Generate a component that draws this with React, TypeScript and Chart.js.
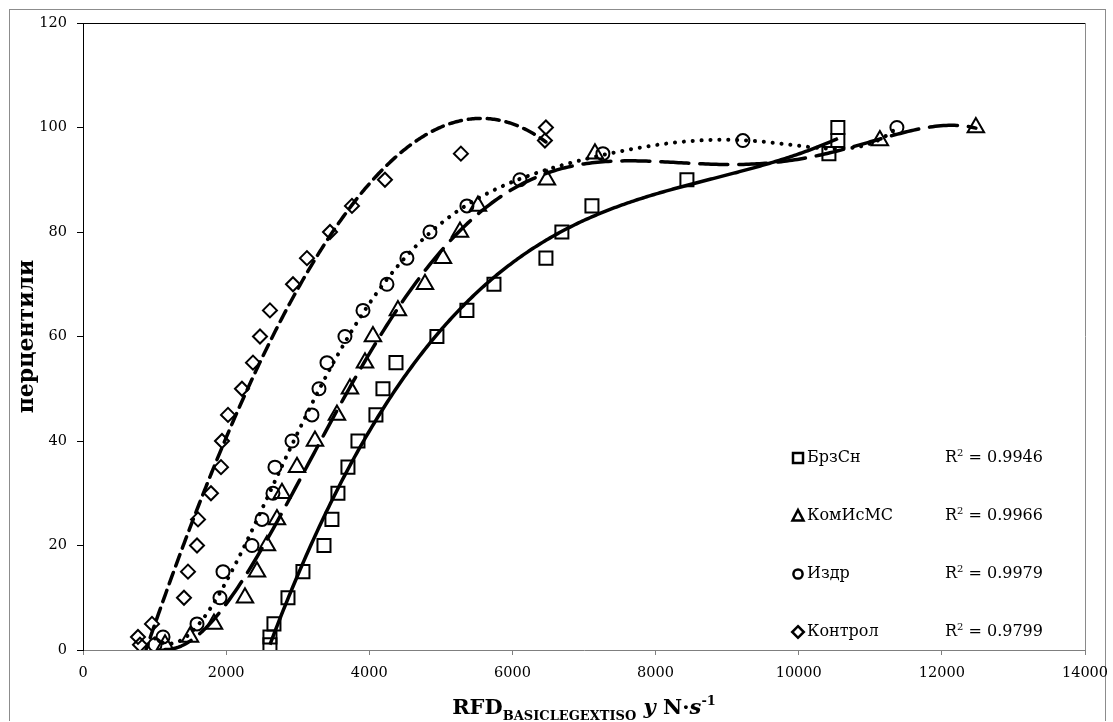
import React, { useEffect, useRef } from "react";
import { Chart, registerables } from "chart.js";

Chart.register(...registerables);

// Percentile levels shared by every group
const percentiles = [1, 2.5, 5, 10, 15, 20, 25, 30, 35, 40, 45, 50, 55, 60, 65, 70, 75, 80, 85, 90, 95, 97.5, 100];

// RFD values (N·s⁻¹) at each percentile, per group
const brzSn = [2612, 2612, 2668, 2864, 3073, 3367, 3478, 3562, 3702, 3842, 4093, 4191, 4373, 4945, 5364, 5742, 6468, 6691, 7111, 8438, 10422, 10547, 10547];
const komIsMS = [1146, 1495, 1830, 2263, 2431, 2570, 2710, 2780, 2990, 3241, 3548, 3730, 3940, 4051, 4400, 4778, 5029, 5267, 5518, 6482, 7153, 11134, 12475];
const izdr = [1006, 1118, 1593, 1914, 1956, 2361, 2501, 2654, 2682, 2920, 3199, 3297, 3409, 3660, 3912, 4247, 4526, 4848, 5364, 6105, 7264, 9220, 11372];
const kontrol = [796, 768, 964, 1411, 1467, 1593, 1607, 1788, 1928, 1942, 2026, 2221, 2375, 2473, 2612, 2934, 3129, 3451, 3758, 4219, 5280, 6454, 6468];

const seriesNames = ["БрзСн", "КомИсМС", "Издр", "Контрол"];
const rSquared = ["0.9946", "0.9966", "0.9979", "0.9799"];
// polynomial order of each group's trend line
const trendOrders = [3, 5, 6, 3];

const xMin = 0;
const xMax = 14000;
const xStep = 2000;
const yMin = 0;
const yMax = 120;
const yStep = 20;

const FONT = "'DejaVu Serif', 'Liberation Serif', serif";

type Style = {
  point: "rect" | "triangle" | "circle" | "rectRot";
  radius: number;
  dash: number[];
  cap: CanvasLineCap;
  width: number;
};

const styles: Style[] = [
  { point: "rect", radius: 9.2, dash: [], cap: "butt", width: 3.5 },
  { point: "triangle", radius: 9.5, dash: [28, 11], cap: "round", width: 3.5 },
  { point: "circle", radius: 6.5, dash: [0.1, 8.8], cap: "round", width: 4 },
  { point: "rectRot", radius: 7, dash: [12, 7], cap: "round", width: 3.5 },
];

// Least-squares polynomial trend line sampled across the group's x range
function polyfit(xs: number[], ys: number[], order: number) {
  const lo = Math.min(...xs);
  const hi = Math.max(...xs);
  const mid = (lo + hi) / 2;
  const half = (hi - lo) / 2 || 1;
  const n = order + 1;
  const A: number[][] = Array.from({ length: n }, () => new Array(n + 1).fill(0));
  xs.forEach((x, k) => {
    const u = (x - mid) / half;
    const pw = [1];
    for (let i = 1; i < 2 * n; i++) pw.push(pw[i - 1] * u);
    for (let i = 0; i < n; i++) {
      for (let j = 0; j < n; j++) A[i][j] += pw[i + j];
      A[i][n] += pw[i] * ys[k];
    }
  });
  for (let c = 0; c < n; c++) {
    let p = c;
    for (let r = c + 1; r < n; r++) if (Math.abs(A[r][c]) > Math.abs(A[p][c])) p = r;
    [A[c], A[p]] = [A[p], A[c]];
    for (let r = 0; r < n; r++) {
      if (r === c) continue;
      const f = A[r][c] / A[c][c];
      for (let j = c; j <= n; j++) A[r][j] -= f * A[c][j];
    }
  }
  const coef = A.map((row, i) => row[n] / row[i]);
  const evalAt = (x: number) => {
    const u = (x - mid) / half;
    let s = 0;
    for (let i = n - 1; i >= 0; i--) s = s * u + coef[i];
    return s;
  };
  const pts: { x: number; y: number }[] = [];
  const steps = 300;
  for (let i = 0; i <= steps; i++) {
    const x = lo + ((hi - lo) * i) / steps;
    pts.push({ x, y: evalAt(x) });
  }
  return pts;
}

function drawMarker(ctx: CanvasRenderingContext2D, kind: Style["point"], x: number, y: number) {
  ctx.beginPath();
  if (kind === "rect") {
    ctx.rect(x - 5, y - 5, 10, 10);
  } else if (kind === "triangle") {
    ctx.moveTo(x, y - 6);
    ctx.lineTo(x + 5.5, y + 4.5);
    ctx.lineTo(x - 5.5, y + 4.5);
    ctx.closePath();
  } else if (kind === "circle") {
    ctx.arc(x, y, 4.6, 0, Math.PI * 2);
  } else {
    ctx.moveTo(x, y - 5.8);
    ctx.lineTo(x + 5.8, y);
    ctx.lineTo(x, y + 5.8);
    ctx.lineTo(x - 5.8, y);
    ctx.closePath();
  }
  ctx.stroke();
}

const decorPlugin = {
  id: "decor",
  afterDatasetsDraw(chart: any) {
    const { ctx, chartArea } = chart;
    const { left, right, top, bottom } = chartArea;
    ctx.save();

    // plot frame: top and right edges
    ctx.lineWidth = 1;
    ctx.strokeStyle = "#000";
    ctx.beginPath();
    ctx.moveTo(left, Math.round(top) + 0.5);
    ctx.lineTo(right, Math.round(top) + 0.5);
    ctx.stroke();
    ctx.strokeStyle = "#8a8a8a";
    ctx.beginPath();
    ctx.moveTo(Math.round(right) + 0.5, top);
    ctx.lineTo(Math.round(right) + 0.5, bottom);
    ctx.stroke();

    // legend with R² of each trend line
    ctx.fillStyle = "#000";
    ctx.textBaseline = "middle";
    const mx = right - 287;
    seriesNames.forEach((name, i) => {
      const ry = bottom - 18 - (seriesNames.length - 1 - i) * 58;
      ctx.strokeStyle = "#000";
      ctx.lineWidth = 2.5;
      drawMarker(ctx, styles[i].point, mx, ry);
      ctx.font = `16px ${FONT}`;
      ctx.textAlign = "left";
      ctx.fillText(name, mx + 9, ry);
      const rx = right - 140;
      ctx.fillText("R", rx, ry);
      const rw = ctx.measureText("R").width;
      ctx.font = `10px ${FONT}`;
      ctx.fillText("2", rx + rw, ry - 5);
      const sw = ctx.measureText("2").width;
      ctx.font = `16px ${FONT}`;
      ctx.fillText(" = " + rSquared[i], rx + rw + sw, ry);
    });

    // y-axis title
    ctx.save();
    ctx.translate(17, (top + bottom) / 2);
    ctx.rotate(-Math.PI / 2);
    ctx.font = `bold 22px ${FONT}`;
    ctx.textAlign = "center";
    ctx.textBaseline = "middle";
    ctx.fillText("перцентили", 0, 0);
    ctx.restore();

    // x-axis title with subscript and superscript
    const parts = [
      { t: "RFD", f: `bold 21px ${FONT}`, dy: 0 },
      { t: "BASICLEGEXTISO", f: `bold 13px ${FONT}`, dy: 6 },
      { t: " ", f: `bold 21px ${FONT}`, dy: 0 },
      { t: "y", f: `italic bold 21px ${FONT}`, dy: 0 },
      { t: " N·", f: `bold 21px ${FONT}`, dy: 0 },
      { t: "s", f: `italic bold 21px ${FONT}`, dy: 0 },
      { t: "-1", f: `bold 13px ${FONT}`, dy: -9 },
    ];
    let total = 0;
    const widths = parts.map((p) => {
      ctx.font = p.f;
      const w = ctx.measureText(p.t).width;
      total += w;
      return w;
    });
    let cx = (left + right) / 2 - total / 2;
    const base = 704;
    ctx.textAlign = "left";
    ctx.textBaseline = "alphabetic";
    parts.forEach((p, i) => {
      ctx.font = p.f;
      ctx.fillText(p.t, cx, base + p.dy);
      cx += widths[i];
    });

    ctx.restore();
  },
};

export default function App() {
  const ref = useRef<HTMLCanvasElement | null>(null);

  useEffect(() => {
    if (!ref.current) return;
    const groups = [brzSn, komIsMS, izdr, kontrol];

    const markerSets = groups.map((xs, i) => ({
      label: seriesNames[i],
      data: xs.map((x, k) => ({ x, y: percentiles[k] })),
      showLine: false,
      pointStyle: styles[i].point,
      pointRadius: styles[i].radius,
      pointBorderWidth: 2,
      pointBorderColor: "#000",
      pointBackgroundColor: "rgba(0,0,0,0)",
      order: 2,
    }));

    const trendSets = groups.map((xs, i) => ({
      label: seriesNames[i] + " trend",
      data: polyfit(xs, percentiles, trendOrders[i]),
      showLine: true,
      pointRadius: 0,
      borderColor: "#000",
      borderWidth: styles[i].width,
      borderDash: styles[i].dash,
      borderCapStyle: styles[i].cap,
      borderJoinStyle: "round",
      tension: 0,
      fill: false,
      order: 1,
    }));

    const tickFont = { family: FONT, size: 14.5 };

    const chart = new Chart(ref.current, {
      type: "scatter",
      data: { datasets: [...markerSets, ...trendSets] as any },
      options: {
        responsive: false,
        animation: false,
        events: [],
        layout: { padding: { left: 0, top: 13, right: 28, bottom: 0 } },
        plugins: { legend: { display: false }, tooltip: { enabled: false } },
        scales: {
          x: {
            type: "linear",
            min: xMin,
            max: xMax,
            ticks: {
              stepSize: xStep,
              color: "#000",
              font: tickFont,
              padding: 10,
              maxRotation: 0,
              callback: (v: any) => String(v),
            },
            grid: { display: true, drawOnChartArea: false, drawTicks: true, tickLength: 5, color: "#7f7f7f" },
            border: { display: true, color: "#7f7f7f", width: 1 },
            afterFit: (s: any) => {
              s.height = 71;
              s.paddingLeft = 0;
              s.paddingRight = 0;
            },
          },
          y: {
            type: "linear",
            min: yMin,
            max: yMax,
            ticks: { stepSize: yStep, color: "#000", font: tickFont, padding: 10 },
            grid: { display: true, drawOnChartArea: false, drawTicks: true, tickLength: 6, color: "#000" },
            border: { display: true, color: "#000", width: 1 },
            afterFit: (s: any) => {
              s.width = 73;
              s.paddingTop = 0;
              s.paddingBottom = 0;
            },
          },
        },
      },
      plugins: [decorPlugin],
    });

    return () => chart.destroy();
  }, []);

  return (
    <div
      style={{
        position: "absolute",
        left: 9,
        top: 9,
        width: 1095,
        height: 711,
        borderTop: "1px solid #8c8c8c",
        borderLeft: "1px solid #8c8c8c",
        borderRight: "1px solid #8c8c8c",
        background: "#fff",
      }}
    >
      <canvas
        ref={ref}
        width={1103}
        height={711}
        style={{ display: "block", position: "absolute", left: 0, top: 0 }}
      />
    </div>
  );
}
